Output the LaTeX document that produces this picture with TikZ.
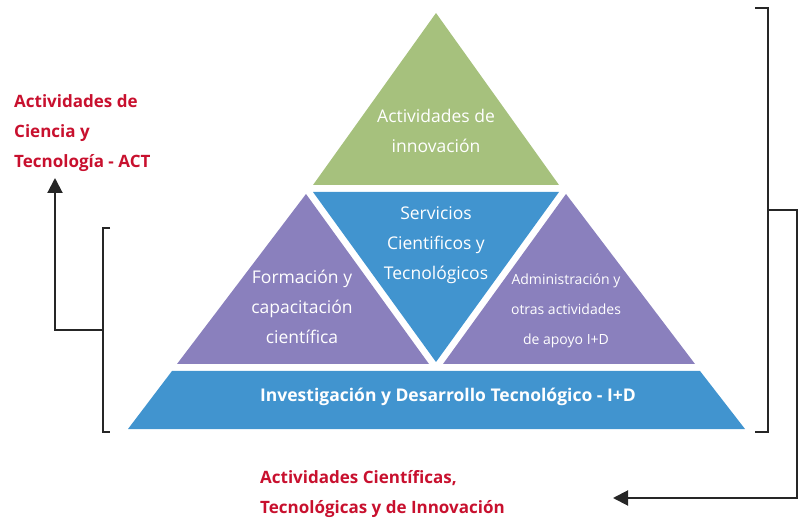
\documentclass[tikz,border=0pt]{standalone}
\usepackage{fontspec}
\setmainfont{Open Sans}
\usetikzlibrary{arrows.meta}
\definecolor{pgreen}{HTML}{A6C17D}
\definecolor{pblue}{HTML}{4194CF}
\definecolor{ppurple}{HTML}{8A80BD}
\definecolor{pred}{HTML}{C8102E}
\tikzset{
  wtext/.style={text=white, align=center, inner sep=0pt},
  rtext/.style={text=pred, align=left, inner sep=0pt, font=\bfseries\fontsize{17}{30}\selectfont},
  bracket/.style={draw=black!85, line width=2pt},
  arr/.style={draw=black!85, line width=2pt, -{Triangle[length=15pt,width=15pt]}}
}
\begin{document}
\begin{tikzpicture}[x=1pt,y=-1pt]
\useasboundingbox (0,0) rectangle (801,521);
% pyramid pieces
\fill[pgreen] (436,13) -- (313,185) -- (559,185) -- cycle;
\fill[pblue] (313,192) -- (559,192) -- (436,362) -- cycle;
\fill[ppurple] (306,194) -- (177,364) -- (429,364) -- cycle;
\fill[ppurple] (566,194) -- (695,364) -- (443,364) -- cycle;
\fill[pblue] (172,371) -- (700,371) -- (745,429) -- (128,429) -- cycle;
% texts
\node[wtext, font=\fontsize{17.5}{30}\selectfont] (innov) at (436,131) {Actividades de\\innovación};
\node[wtext, font=\fontsize{17.5}{30}\selectfont] (serv) at (436,245) {Servicios\\Cientificos y\\Tecnológicos};
\node[wtext, font=\fontsize{17.5}{30}\selectfont] (form) at (302,307) {Formación y\\capacitación\\científica};
\node[wtext, font=\fontsize{14}{30}\selectfont] (admin) at (566,311) {Administración y\\otras actividades\\de apoyo I+D};
\node[wtext, font=\bfseries\fontsize{17.5}{20}\selectfont] (id) at (448,397) {Investigación y Desarrollo Tecnológico - I+D};
\node[rtext, anchor=west] (act) at (14,133) {Actividades de\\Ciencia y\\Tecnología - ACT};
\node[rtext, anchor=west] (acti) at (260,494) {Actividades Científicas,\\Tecnológicas y de Innovación};
% brackets
\coordinate (lb) at (103,330);
\coordinate (rb) at (768,210);
\draw[bracket] (110,228) -- (103,228) -- (103,432) -- (110,432);
\draw[bracket] (755,8) -- (768,8) -- (768,432) -- (755,432);
\draw[arr] (lb) -- (55,330) -- (55,178);
\draw[arr] (rb) -- (797,210) -- (797,498) -- (613,498);
\end{tikzpicture}
\end{document}
